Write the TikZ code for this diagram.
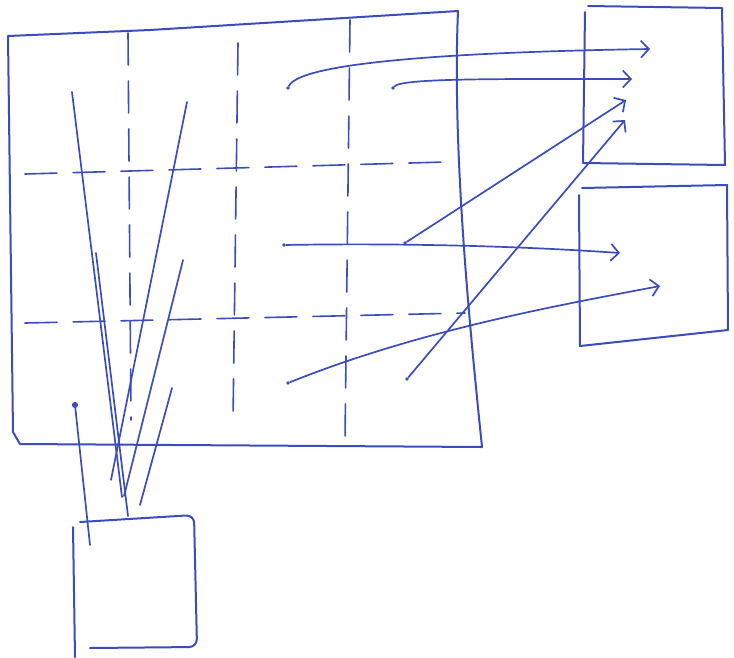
\documentclass[tikz,border=0pt]{standalone}
\usepackage{tikz}
\usetikzlibrary{arrows.meta}
\definecolor{ink}{RGB}{58,76,190}

\begin{document}
\begin{tikzpicture}[
  x=1pt, y=-1pt,
  pen/.style = {draw=ink, line width=2pt, line cap=round, line join=round},
  gridline/.style = {pen, line width=1.6pt, dash pattern=on 32pt off 16pt},
  arr/.style = {pen, line width=1.7pt, -{Straight Barb[length=8pt, width=17pt, line width=1.7pt]}},
  fan/.style = {pen, line width=1.7pt},
  spot/.style = {circle, fill=ink, inner sep=1.4pt},
]
\useasboundingbox (0,0) rectangle (734,657);

% the big table
\draw[pen] (8,36) -- (150,30) -- (458,11) .. controls (452,150) and (470,330) .. (482,447)
  -- (20,444) -- (13,432) -- cycle;
\draw[gridline] (128,33) -- (131,420);
\draw[gridline] (238,43) -- (233,420);
\draw[gridline] (350,20) -- (345,440);
\draw[gridline] (25,174) -- (445,162);
\draw[gridline] (25,323) -- (465,313);

% the two boxes on the right and the small one below
\draw[pen] (588,6) -- (722,8) -- (725,165) -- (583,163) -- (585,12);
\draw[pen] (582,188) -- (727,185) -- (728,330) -- (580,346) -- (579,195);
\draw[pen, rounded corners=8pt] (80,522) -- (194,515) -- (197,647) -- (90,648);
\draw[pen] (73,527) -- (75,657);

% cells
\node[spot] (d1) at (288,88) {};
\node[spot] (d2) at (393,88) {};
\node[spot] (d3) at (284,245) {};
\node[spot] (d4) at (405,243) {};
\node[spot] (d5) at (288,383) {};
\node[spot] (d6) at (407,379) {};
\node[spot, inner sep=2.2pt] (mk) at (75,405) {};

\coordinate (t1) at (650,49);
\coordinate (t2) at (632,79);
\coordinate (t3) at (626,100);
\coordinate (t4) at (625,120);
\coordinate (u1) at (620,253);
\coordinate (u2) at (660,286);

\draw[arr] (d1) .. controls (300,62) and (460,52) .. (t1);
\draw[arr] (d2) .. controls (402,78) and (500,79) .. (t2);
\draw[arr] (d4) -- (t3);
\draw[arr] (d6) -- (t4);
\draw[arr] (d3) .. controls (400,243) and (520,246) .. (u1);
\draw[arr] (d5) .. controls (420,330) and (560,305) .. (u2);

% fan into the small box
\coordinate (f1) at (72,92);
\coordinate (f2) at (187,102);
\coordinate (f3) at (96,253);
\coordinate (f4) at (183,260);
\coordinate (f5) at (172,388);
\coordinate (b1) at (122,497);
\coordinate (b2) at (111,480);
\coordinate (b3) at (128,516);
\coordinate (b4) at (124,496);
\coordinate (b5) at (140,505);
\coordinate (b6) at (90,545);
\draw[fan] (f1) -- (b1);
\draw[fan] (f2) -- (b2);
\draw[fan] (f3) -- (b3);
\draw[fan] (f4) -- (b4);
\draw[fan] (f5) -- (b5);
\draw[fan] (mk) -- (b6);
\end{tikzpicture}
\end{document}
